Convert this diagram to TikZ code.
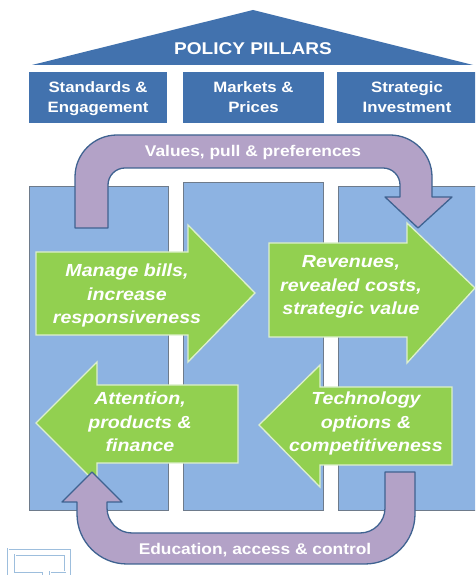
\documentclass[tikz,border=0pt]{standalone}
\usepackage{fontspec}
\setmainfont{Liberation Sans}[FakeStretch=1.12]
\definecolor{roofblue}{HTML}{4272AE}
\definecolor{pillarblue}{HTML}{8DB3E2}
\definecolor{pgray}{HTML}{6E7B8B}
\definecolor{leaf}{HTML}{92D050}
\definecolor{leafedge}{HTML}{DDF0CC}
\definecolor{lilac}{HTML}{B3A2C7}
\definecolor{lilacedge}{HTML}{3F6391}
\definecolor{iconblue}{HTML}{9DBEDD}
\begin{document}
\begin{tikzpicture}[x=1pt,y=1pt,
  roof/.style={fill=roofblue,draw=none},
  pillar/.style={fill=pillarblue,draw=pgray,line width=0.8pt},
  greenarrow/.style={fill=leaf,draw=leafedge,line width=1.3pt,line join=miter},
  loop/.style={fill=lilac,draw=lilacedge,line width=1.3pt,line join=round},
  headtxt/.style={text=white,font=\bfseries\fontsize{15}{20}\selectfont,align=center,anchor=base,inner sep=0pt},
  flowtxt/.style={text=white,font=\bfseries\itshape\fontsize{17.5}{23.5}\selectfont,align=center,anchor=base,inner sep=0pt},
  looptxt/.style={text=white,font=\bfseries\fontsize{15.5}{18}\selectfont,anchor=base,inner sep=0pt},
  iconline/.style={draw=iconblue,double=white,double distance=1pt,line width=0.8pt}
]
\useasboundingbox (0,0) rectangle (475,575);
\clip (0,0) rectangle (475,575);
\fill[white] (0,0) rectangle (475,575);

% roof and pillar heads
\path[roof] (32,510) -- (253,565) -- (473,510) -- cycle;
\path[roof] (29,452) rectangle (167,503);
\path[roof] (183,452) rectangle (324,503);
\path[roof] (337,452) rectangle (478,503);
\node[headtxt,font=\bfseries\fontsize{17}{20}\selectfont] (title) at (253,520) {POLICY PILLARS};
\node[headtxt] (h1) at (98,462) {Standards \&\\Engagement};
\node[headtxt] (h2) at (253.5,462) {Markets \&\\Prices};
\node[headtxt] (h3) at (407,462) {Strategic\\Investment};

% pillars
\draw[pillar] (29,65) rectangle (168,389);
\draw[pillar] (183,65) rectangle (323,393);
\draw[pillar] (338,65) rectangle (480,389);

% green arrows
\draw[greenarrow] (36,240) -- (36,323) -- (188,323) -- (188,350) -- (255,282) -- (188,213) -- (188,240) -- cycle;
\draw[greenarrow] (269,238) -- (269,332) -- (407,332) -- (407,352) -- (475,287) -- (407,212) -- (407,238) -- cycle;
\draw[greenarrow] (238,190) -- (97,190) -- (97,213) -- (36,152) -- (97,91) -- (97,112) -- (238,112) -- cycle;
\draw[greenarrow] (452,188) -- (320,188) -- (320,210) -- (259,150) -- (320,88) -- (320,110) -- (452,110) -- cycle;

\node[flowtxt] (f1) at (127,251) {Manage bills,\\increase\\responsiveness};
\node[flowtxt] (f2) at (351,260) {Revenues,\\revealed costs,\\strategic value};
\node[flowtxt] (f3) at (140,123) {Attention,\\products \&\\finance};
\node[flowtxt] (f4) at (366,123) {Technology\\options \&\\competitiveness};

% top loop arrow
\draw[loop] (75,347) -- (75,398) arc[start angle=180,end angle=90,radius=42]
  -- (390,440) arc[start angle=90,end angle=0,radius=42]
  -- (432,378) -- (452,378) -- (418,347) -- (385,378) -- (400,378)
  -- (400,390) arc[start angle=0,end angle=90,radius=17]
  -- (125,407) arc[start angle=90,end angle=180,radius=17]
  -- (108,347) -- cycle;
\node[looptxt] (l1) at (253,418) {Values, pull \& preferences};

% bottom loop arrow
\draw[loop] (415,103) -- (415,61) arc[start angle=0,end angle=-90,radius=50]
  -- (127,11) arc[start angle=270,end angle=180,radius=50]
  -- (77,73) -- (62,73) -- (92,103) -- (122,73) -- (107,73)
  -- (107,67) arc[start angle=180,end angle=270,radius=25]
  -- (360,42) arc[start angle=-90,end angle=0,radius=25]
  -- (385,103) -- cycle;
\node[looptxt] (l2) at (255,20) {Education, access \& control};

% small icon, bottom left
\draw[iconline] (8,-5) -- (8,26) -- (71,26) -- (71,-5);
\draw[iconline] (43,-5) -- (43,3) -- (15,3) -- (15,20) -- (65,20) -- (65,3) -- (50,3) -- (50,-5);
\end{tikzpicture}
\end{document}
